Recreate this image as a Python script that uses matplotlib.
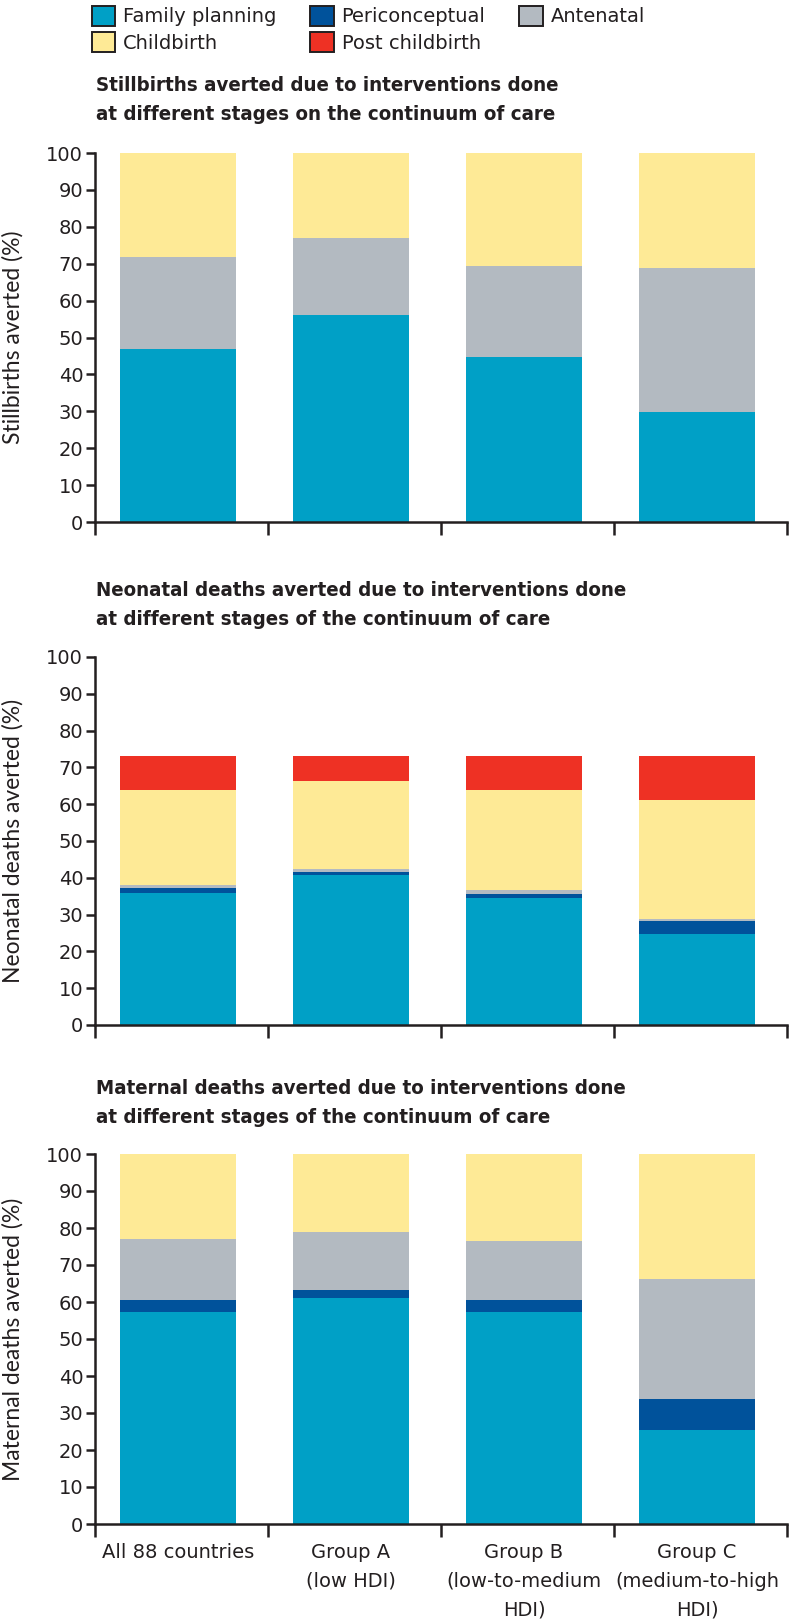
import matplotlib.pyplot as plt
import numpy as np

groups = ["All 88 countries", "Group A\n(low HDI)", "Group B\n(low-to-medium\nHDI)",
          "Group C\n(medium-to-high\nHDI)"]
stages = ["Family planning", "Periconceptual", "Antenatal", "Childbirth", "Post childbirth"]
colors = ["#00A0C6", "#00529B", "#B3BAC1", "#FEEA96", "#EE3124"]

# segment heights, per stage (%)
still_fp = [47.0, 56.1, 44.6, 29.9]
still_peri = [0, 0, 0, 0]
still_ante = [24.9, 20.9, 24.7, 38.8]
still_birth = [28.1, 23.0, 30.7, 31.3]
still_post = [0, 0, 0, 0]

neo_fp = [35.8, 40.8, 34.4, 24.6]
neo_peri = [1.3, 0.9, 1.3, 3.6]
neo_ante = [1.0, 0.6, 1.0, 0.5]
neo_birth = [25.8, 23.9, 27.2, 32.4]
neo_post = [9.1, 6.8, 9.1, 11.9]

mat_fp = [57.3, 61.1, 57.3, 25.5]
mat_peri = [3.2, 2.1, 3.2, 8.4]
mat_ante = [16.5, 15.7, 15.9, 32.4]
mat_birth = [23.0, 21.1, 23.6, 33.7]
mat_post = [0, 0, 0, 0]

panels = [
    ("Stillbirths averted due to interventions done\nat different stages on the continuum of care",
     "Stillbirths averted (%)", [still_fp, still_peri, still_ante, still_birth, still_post]),
    ("Neonatal deaths averted due to interventions done\nat different stages of the continuum of care",
     "Neonatal deaths averted (%)", [neo_fp, neo_peri, neo_ante, neo_birth, neo_post]),
    ("Maternal deaths averted due to interventions done\nat different stages of the continuum of care",
     "Maternal deaths averted (%)", [mat_fp, mat_peri, mat_ante, mat_birth, mat_post]),
]

plt.rcParams['font.family'] = ['DejaVu Sans']
ink = '#231F20'

W, H = 789, 1623
fig = plt.figure(figsize=(W / 100, H / 100), dpi=100)

# axes boxes in pixels: (top at 100, bottom at 0)
boxes = [(153, 522), (657, 1025), (1154, 1524)]
title_y = [100, 605, 1103]
x_left, x_right = 95, 787

x = np.arange(len(groups)) + 0.48
for i, (title, ylab, series) in enumerate(panels):
    top, bot = boxes[i]
    ax = fig.add_axes([x_left / W, 1 - bot / H, (x_right - x_left) / W, (bot - top) / H])
    bottom = np.zeros(len(groups))
    for vals, c, name in zip(series, colors, stages):
        ax.bar(x, vals, width=0.67, bottom=bottom, color=c, linewidth=0, label=name)
        bottom += np.array(vals)
    ax.set_xlim(0, 4)
    ax.set_ylim(0, 100)
    ax.set_yticks(np.arange(0, 101, 10))
    ax.set_xticks(np.arange(0, 5))
    ax.set_xticklabels([])
    ax.set_xticks(x, minor=True)
    if i == 2:
        ax.set_xticklabels(groups, minor=True, fontsize=14, va='top', linespacing=1.62,
                           color=ink)
    ax.tick_params(axis='x', which='minor', length=0, pad=14)
    ax.tick_params(axis='x', which='major', length=9, width=1.8, direction='out', color=ink)
    ax.tick_params(axis='y', length=6.5, width=1.8, labelsize=14, pad=2, color=ink,
                   labelcolor=ink)
    for s in ['top', 'right']:
        ax.spines[s].set_visible(False)
    for s in ['left', 'bottom']:
        ax.spines[s].set_linewidth(1.8)
        ax.spines[s].set_color(ink)
    ax.spines['bottom'].set_clip_on(False)
    ax.set_ylabel(ylab, fontsize=16.5, family=['Lato', 'DejaVu Sans'], color=ink)
    ax.yaxis.set_label_coords((24 - x_left) / (x_right - x_left), 0.5)
    fig.text(96 / W, 1 - title_y[i] / H, title, fontsize=14.7, fontweight='bold',
             fontstretch='condensed', va='center', ha='left', linespacing=1.65, color=ink)

handles = [plt.Rectangle((0, 0), 1, 1, facecolor=c, edgecolor=ink, linewidth=1.4)
           for c in colors]
order = [0, 3, 1, 4, 2]
fig.legend([handles[k] for k in order], [stages[k] for k in order],
           loc='upper left', bbox_to_anchor=(88 / W, 1 - 2 / H), ncol=3, frameon=False,
           fontsize=14, handlelength=1.2, handleheight=1.2, handletextpad=0.4,
           columnspacing=1.75, labelspacing=0.3, borderaxespad=0, borderpad=0.2,
           labelcolor=ink)

fig.savefig("out.png", dpi=100)
